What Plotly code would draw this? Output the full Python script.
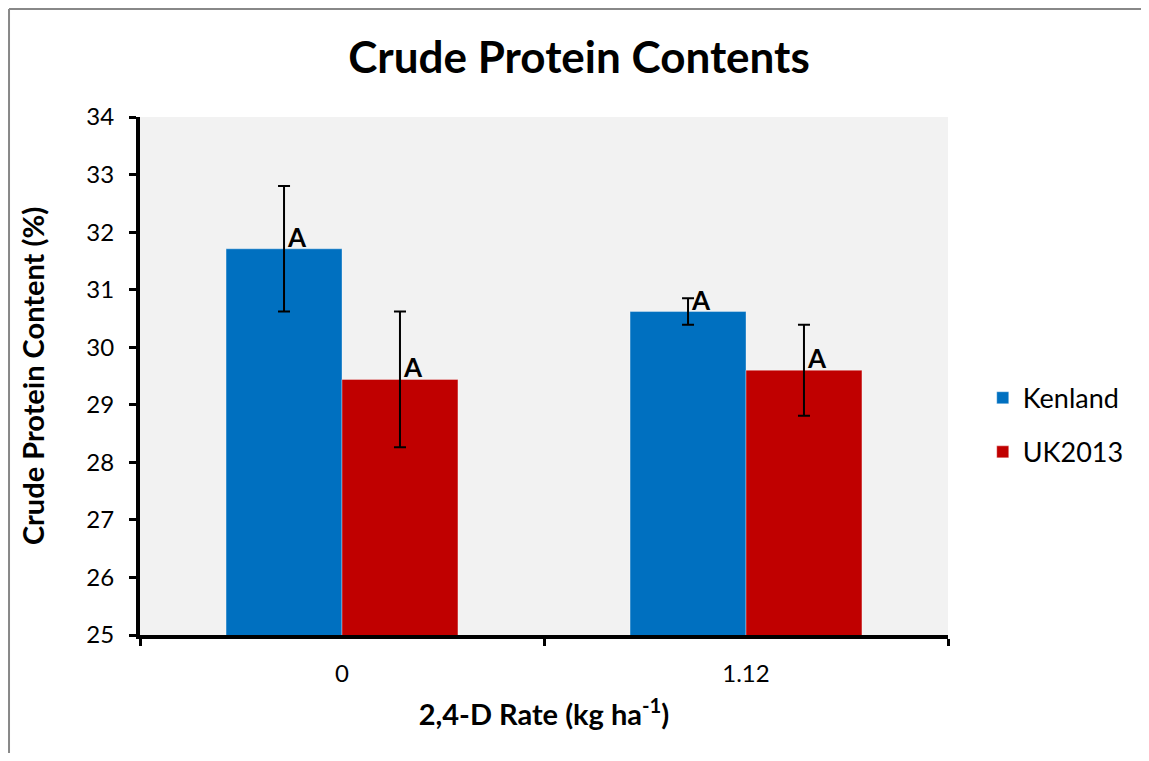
import plotly.graph_objects as go

rates = ["0", "1.12"]
series_names = ["Kenland", "UK2013"]
kenland = [31.71, 30.62]
kenland_err = [1.09, 0.23]
uk2013 = [29.44, 29.60]
uk2013_err = [1.18, 0.79]
letters_kenland = ["A", "A"]
letters_uk2013 = ["A", "A"]

colors = ["#0070C0", "#C00000"]
FONT = "Lato, Carlito, Calibri, sans-serif"
bargap = 0.426

fig = go.Figure()
values = [kenland, uk2013]
errs = [kenland_err, uk2013_err]
letters = [letters_kenland, letters_uk2013]
for j, name in enumerate(series_names):
    fig.add_trace(go.Bar(
        x=rates, y=values[j], name=name,
        marker=dict(color=colors[j], line=dict(color="rgba(255,255,255,0.35)", width=1)),
        error_y=dict(type="data", array=errs[j], color="black", thickness=2, width=6),
        legendgroup=name,
    ))

w = (1 - bargap) / len(series_names)
for j in range(len(series_names)):
    for i in range(len(rates)):
        xc = i + (j - (len(series_names) - 1) / 2) * w
        fig.add_annotation(
            x=xc, y=values[j][i], xref="x", yref="y",
            text="<b>%s</b>" % letters[j][i], showarrow=False,
            xanchor="left", yanchor="bottom", xshift=1, yshift=-6,
            font=dict(family=FONT, size=26, color="black"),
        )

fig.update_layout(
    width=1133, height=745,
    paper_bgcolor="white", plot_bgcolor="#F2F2F2",
    margin=dict(l=132, r=193, t=109, b=118),
    barmode="group", bargap=bargap, bargroupgap=0,
    title=dict(text="<b>Crude Protein Contents</b>", x=0.504, xref="container", xanchor="center",
               y=0.934, yanchor="middle",
               font=dict(family=FONT, size=44, color="black")),
    font=dict(family=FONT, color="black"),
    legend=dict(x=1.043, y=0.405, xanchor="left", yanchor="middle",
                font=dict(family=FONT, size=27, color="black"),
                tracegroupgap=16, bgcolor="rgba(0,0,0,0)"),
    showlegend=True,
)
fig.update_xaxes(
    type="category", showline=True, linecolor="black", linewidth=4,
    ticks="outside", tickson="boundaries", ticklen=7, tickwidth=3, tickcolor="black",
    ticklabelstandoff=14, showgrid=False, zeroline=False,
    tickfont=dict(family=FONT, size=24, color="black"),
    title=dict(text="<b>2,4-D Rate (kg ha<sup>-1</sup>)</b>", standoff=20,
               font=dict(family=FONT, size=29, color="black")),
)
fig.update_yaxes(
    range=[25, 34], dtick=1, showline=True, linecolor="black", linewidth=4,
    ticks="outside", ticklen=7, tickwidth=3, tickcolor="black",
    ticklabelstandoff=10, showgrid=False, zeroline=False,
    tickfont=dict(family=FONT, size=24, color="black"),
    title=dict(text="<b>Crude Protein Content (%)</b>", standoff=34,
               font=dict(family=FONT, size=29, color="black")),
)
# chart frame (partly cropped in original)
fig.add_shape(type="line", xref="paper", yref="paper", x0=-0.1621, x1=1.25, y0=1.2085, y1=1.2085,
              line=dict(color="#888888", width=2))
fig.add_shape(type="line", xref="paper", yref="paper", x0=-0.1621, x1=-0.1621, y0=1.2085, y1=-0.24,
              line=dict(color="#888888", width=2))

fig.write_html("out.html")
